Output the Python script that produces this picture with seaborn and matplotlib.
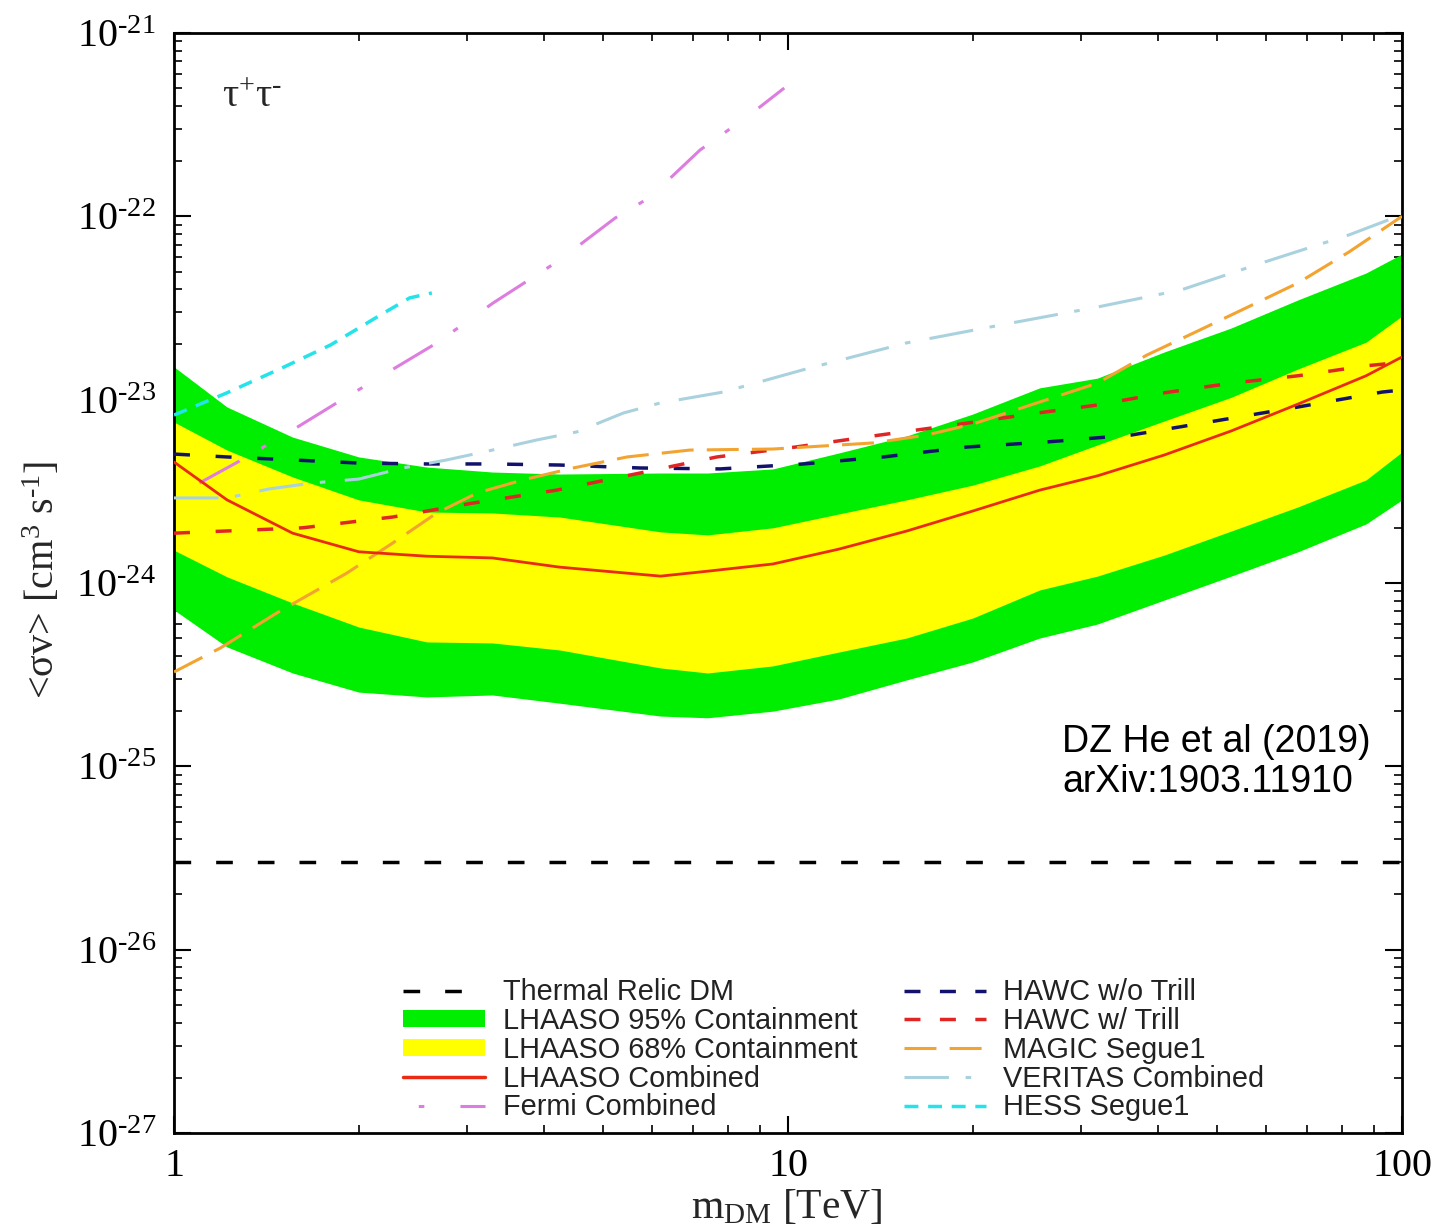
import numpy as np
import pandas as pd
import matplotlib
matplotlib.use('Agg')
import matplotlib.pyplot as plt
import seaborn as sns
from matplotlib.patches import Patch
from matplotlib.lines import Line2D
from matplotlib.ticker import LogLocator, FixedLocator, FuncFormatter, NullFormatter

# ---------------- data ----------------
band_mass = [1.0, 1.22, 1.56, 2.0, 2.58, 3.3, 4.25, 6.2, 7.4, 9.45,
             12.1, 15.6, 20.0, 25.7, 31.9, 41.0, 52.7, 67.7, 87.4, 100.0]
green_hi = [1.51e-23, 9.12e-24, 6.25e-24, 4.87e-24, 4.29e-24, 4.03e-24, 3.93e-24, 3.98e-24, 3.98e-24, 4.19e-24,
            5.12e-24, 6.34e-24, 8.35e-24, 1.16e-23, 1.31e-23, 1.82e-23, 2.46e-23, 3.50e-23, 4.91e-23, 6.23e-23]
yellow_hi = [7.55e-24, 5.31e-24, 3.79e-24, 2.84e-24, 2.44e-24, 2.41e-24, 2.29e-24, 1.90e-24, 1.83e-24, 2.00e-24,
             2.38e-24, 2.84e-24, 3.42e-24, 4.35e-24, 5.66e-24, 7.65e-24, 1.03e-23, 1.47e-23, 2.06e-23, 2.86e-23]
lhaaso_comb = [4.57e-24, 2.84e-24, 1.87e-24, 1.48e-24, 1.40e-24, 1.37e-24, 1.22e-24, 1.09e-24, 1.16e-24, 1.27e-24,
               1.53e-24, 1.92e-24, 2.47e-24, 3.21e-24, 3.84e-24, 4.99e-24, 6.75e-24, 9.46e-24, 1.35e-23, 1.71e-23]
yellow_lo = [1.51e-24, 1.08e-24, 7.78e-25, 5.75e-25, 4.77e-25, 4.71e-25, 4.31e-25, 3.44e-25, 3.23e-25, 3.53e-25,
             4.20e-25, 5.01e-25, 6.44e-25, 9.16e-25, 1.09e-24, 1.42e-24, 1.92e-24, 2.60e-24, 3.65e-24, 5.18e-24]
green_lo = [7.13e-25, 4.48e-25, 3.23e-25, 2.54e-25, 2.39e-25, 2.45e-25, 2.21e-25, 1.88e-25, 1.84e-25, 2.00e-25,
            2.33e-25, 2.96e-25, 3.71e-25, 5.01e-25, 5.97e-25, 8.07e-25, 1.09e-24, 1.48e-24, 2.10e-24, 2.84e-24]

thermal_mass = [1.0, 100.0]
thermal_xsec = [3.0e-26, 3.0e-26]

hawc_notrill_mass = [1.0, 1.22, 1.56, 2.0, 2.58, 3.3, 4.25, 5.74, 7.75, 10.6, 14.3, 19.6, 26.4, 36.2, 49.6, 67.7, 92.8, 100.0]
hawc_notrill_xsec = [5.05e-24, 4.87e-24, 4.69e-24, 4.51e-24, 4.46e-24, 4.46e-24, 4.40e-24, 4.24e-24, 4.19e-24, 4.46e-24,
                     4.87e-24, 5.52e-24, 5.88e-24, 6.41e-24, 7.65e-24, 9.12e-24, 1.10e-23, 1.13e-23]

hawc_trill_mass = [1.0, 1.62, 2.27, 3.07, 4.2, 5.74, 7.66, 10.3, 14.1, 19.1, 24.8, 31.9, 41.0, 52.7, 67.7, 87.4, 100.0]
hawc_trill_xsec = [1.87e-24, 2.00e-24, 2.29e-24, 2.73e-24, 3.21e-24, 3.98e-24, 4.87e-24, 5.52e-24, 6.41e-24, 7.36e-24,
                   8.35e-24, 9.35e-24, 1.09e-23, 1.23e-23, 1.35e-23, 1.53e-23, 1.60e-23]

magic_mass = [1.0, 1.19, 1.47, 1.91, 2.27, 2.68, 3.12, 3.7, 4.47, 5.47, 6.92, 9.45, 13.8, 16.8, 20.0, 25.7,
              31.9, 38.4, 46.5, 56.1, 67.7, 81.9, 100.0]
magic_xsec = [3.27e-25, 4.42e-25, 6.86e-25, 1.13e-24, 1.65e-24, 2.41e-24, 3.10e-24, 3.65e-24, 4.24e-24, 4.87e-24,
              5.31e-24, 5.38e-24, 5.81e-24, 6.41e-24, 7.36e-24, 9.71e-24, 1.23e-23, 1.75e-23, 2.37e-23, 3.20e-23,
              4.33e-23, 6.38e-23, 1.00e-22]

veritas_mass = [1.0, 1.22, 1.43, 1.68, 2.0, 2.36, 2.78, 3.3, 3.9, 4.53, 5.39, 6.19, 7.84, 10.7, 15.6, 22.7,
                31.9, 43.7, 59.8, 81.9, 100.0]
veritas_xsec = [2.91e-24, 2.91e-24, 3.26e-24, 3.51e-24, 3.69e-24, 4.24e-24, 4.69e-24, 5.31e-24, 6.03e-24, 6.67e-24,
                8.45e-24, 9.59e-24, 1.10e-23, 1.47e-23, 2.04e-23, 2.59e-23, 3.20e-23, 3.97e-23, 5.64e-23, 7.91e-23,
                1.02e-22]

hess_mass = [1.0, 1.22, 1.5, 1.8, 2.17, 2.42, 2.63]
hess_xsec = [8.24e-24, 1.09e-23, 1.49e-23, 1.99e-23, 2.90e-23, 3.59e-23, 3.82e-23]

fermi_mass = [1.10, 1.27, 1.59, 1.84, 2.68, 3.31, 4.25, 5.23, 5.96, 7.19, 8.66, 9.86]
fermi_xsec = [3.51e-24, 4.57e-24, 7.10e-24, 9.59e-24, 2.04e-23, 3.37e-23, 5.78e-23, 9.79e-23, 1.27e-22, 2.30e-22,
              3.57e-22, 5.01e-22]

x_ticks = [1, 10, 100]
y_ticks = [1e-27, 1e-26, 1e-25, 1e-24, 1e-23, 1e-22, 1e-21]

legend_labels = ["Thermal Relic DM", "LHAASO 95% Containment", "LHAASO 68% Containment",
                 "LHAASO Combined", "Fermi Combined", "HAWC w/o Trill", "HAWC w/ Trill",
                 "MAGIC Segue1", "VERITAS Combined", "HESS Segue1"]

# ---------------- styling ----------------
sns.set_theme(style='ticks')
plt.rcParams.update({
    'font.family': ['Liberation Serif', 'DejaVu Serif'],
    'mathtext.fontset': 'custom',
    'mathtext.rm': 'Liberation Serif',
    'mathtext.it': 'Liberation Serif:italic',
    'mathtext.bf': 'Liberation Serif:bold',
    'mathtext.default': 'regular',
    'axes.unicode_minus': False,
    'lines.scale_dashes': False,
})

C_GREEN = '#00ee00'
C_YELLOW = '#ffff00'
C_RED = '#ea2a12'
C_NAVY = '#12126c'
C_RED_D = '#e02525'
C_ORANGE = '#f3a32f'
C_VERITAS = '#a9d2de'
C_HESS = '#25e3ea'
C_FERMI = '#dd7de0'

LS_THERMAL = (0, (12.0, 18.0))
LS_HAWC = (0, (11.5, 18.5))
LS_MAGIC = (0, (23.0, 9.5))
LS_VERITAS = (0, (32.0, 12.0, 4.0, 14.0))
LS_HESS = (0, (10.0, 7.0))
LS_FERMI = (0, (33.0, 18.0, 4.0, 26.0))

W, H = 1445, 1227
fig = plt.figure(figsize=(W / 100, H / 100), dpi=100)
ax = fig.add_axes([174 / W, 1 - 1133 / H, (1402 - 174) / W, (1133 - 33) / H])
ax.set_xscale('log')
ax.set_yscale('log')
ax.set_xlim(1, 100)
ax.set_ylim(1e-27, 1e-21)

ax.fill_between(band_mass, green_lo, green_hi, color=C_GREEN, lw=0, zorder=1)
ax.fill_between(band_mass, yellow_lo, yellow_hi, color=C_YELLOW, lw=0, zorder=2)


def draw(x, y, color, ls, lw, z):
    df = pd.DataFrame({'m': x, 'sv': y})
    sns.lineplot(data=df, x='m', y='sv', ax=ax, color=color, linestyle=ls, linewidth=lw,
                 estimator=None, sort=False, legend=False, zorder=z)


draw(thermal_mass, thermal_xsec, 'black', LS_THERMAL, 2.5, 5)
draw(band_mass, lhaaso_comb, C_RED, '-', 2.0, 6)
draw(fermi_mass, fermi_xsec, C_FERMI, LS_FERMI, 2.2, 5)
draw(hawc_notrill_mass, hawc_notrill_xsec, C_NAVY, LS_HAWC, 2.5, 5)
draw(hawc_trill_mass, hawc_trill_xsec, C_RED_D, LS_HAWC, 2.5, 5)
draw(magic_mass, magic_xsec, C_ORANGE, LS_MAGIC, 2.2, 5)
draw(veritas_mass, veritas_xsec, C_VERITAS, LS_VERITAS, 2.2, 5)
draw(hess_mass, hess_xsec, C_HESS, LS_HESS, 2.5, 5)

ax.set_xlabel('')
ax.set_ylabel('')


def yfmt(v, p):
    e = int(round(np.log10(v)))
    return '$10^{\\text{-}%d}$' % (-e) if e < 0 else '$10^{%d}$' % e


# ticks
ax.yaxis.set_major_locator(FixedLocator(y_ticks))
ax.yaxis.set_minor_locator(LogLocator(base=10, subs=np.arange(2, 10), numticks=100))
ax.yaxis.set_major_formatter(FuncFormatter(yfmt))
ax.yaxis.set_minor_formatter(NullFormatter())
ax.xaxis.set_major_locator(FixedLocator(x_ticks))
ax.xaxis.set_minor_locator(LogLocator(base=10, subs=np.arange(2, 10), numticks=100))
ax.xaxis.set_major_formatter(FuncFormatter(lambda v, p: '%g' % v))
ax.xaxis.set_minor_formatter(NullFormatter())
ax.tick_params(which='both', direction='in', top=True, right=True, colors='black')
ax.tick_params(which='major', length=12, width=1.5, labelsize=29)
ax.tick_params(which='minor', length=6, width=1.2)
ax.tick_params(axis='x', which='major', pad=11)
ax.tick_params(axis='y', which='major', pad=13)
for s in ax.spines.values():
    s.set_linewidth(2.0)
    s.set_color('black')
ax.grid(False)

# axis labels
fig.text(43 / W, 1 - 580 / H, '<σv> [cm$^{3}$ s$^{\\text{-}1}$]', rotation=90, fontsize=29,
         ha='center', va='center')
fig.text(787 / W, 1 - 1188 / H, 'm$_{\\mathrm{DM}}$ [TeV]', fontsize=30, ha='center', va='top')

# annotations
fig.text(222 / W, 1 - 107 / H, 'τ$^{+}$τ$^{\\text{-}}$', fontsize=29, ha='left', va='baseline')
fig.text(1062 / W, 1 - 752 / H, 'DZ He et al (2019)', fontsize=27, family='Liberation Sans',
         ha='left', va='baseline', color='black')
fig.text(1062 / W, 1 - 792 / H, 'arXiv:1903.11910', fontsize=27, family='Liberation Sans',
         ha='left', va='baseline', color='black')

# legend
handles = [
    Line2D([], [], color='black', ls=LS_THERMAL, lw=2.5),
    Patch(facecolor=C_GREEN, edgecolor='none'),
    Patch(facecolor=C_YELLOW, edgecolor='none'),
    Line2D([], [], color=C_RED, ls='-', lw=2.5),
    Line2D([], [], color=C_FERMI, ls=(40, (33.0, 18.0, 4.0, 26.0)), lw=2.2),
    Line2D([], [], color=C_NAVY, ls=(0, (11.5, 14.0)), lw=2.5),
    Line2D([], [], color=C_RED_D, ls=(0, (11.5, 14.0)), lw=2.5),
    Line2D([], [], color=C_ORANGE, ls=LS_MAGIC, lw=2.2),
    Line2D([], [], color=C_VERITAS, ls=LS_VERITAS, lw=2.2),
    Line2D([], [], color=C_HESS, ls=LS_HESS, lw=2.5),
]
leg = ax.legend(handles, legend_labels, ncol=2, loc='upper left',
                bbox_to_anchor=(403 / W, 1 - 978 / H), bbox_transform=fig.transFigure,
                frameon=False, borderpad=0, borderaxespad=0,
                prop={'family': 'Liberation Sans', 'size': 20.8},
                handlelength=2.85, handleheight=0.55, handletextpad=0.6,
                columnspacing=1.6, labelspacing=0.03)
for t in leg.get_texts():
    t.set_color('#222222')

fig.savefig('out.png', dpi=100)
